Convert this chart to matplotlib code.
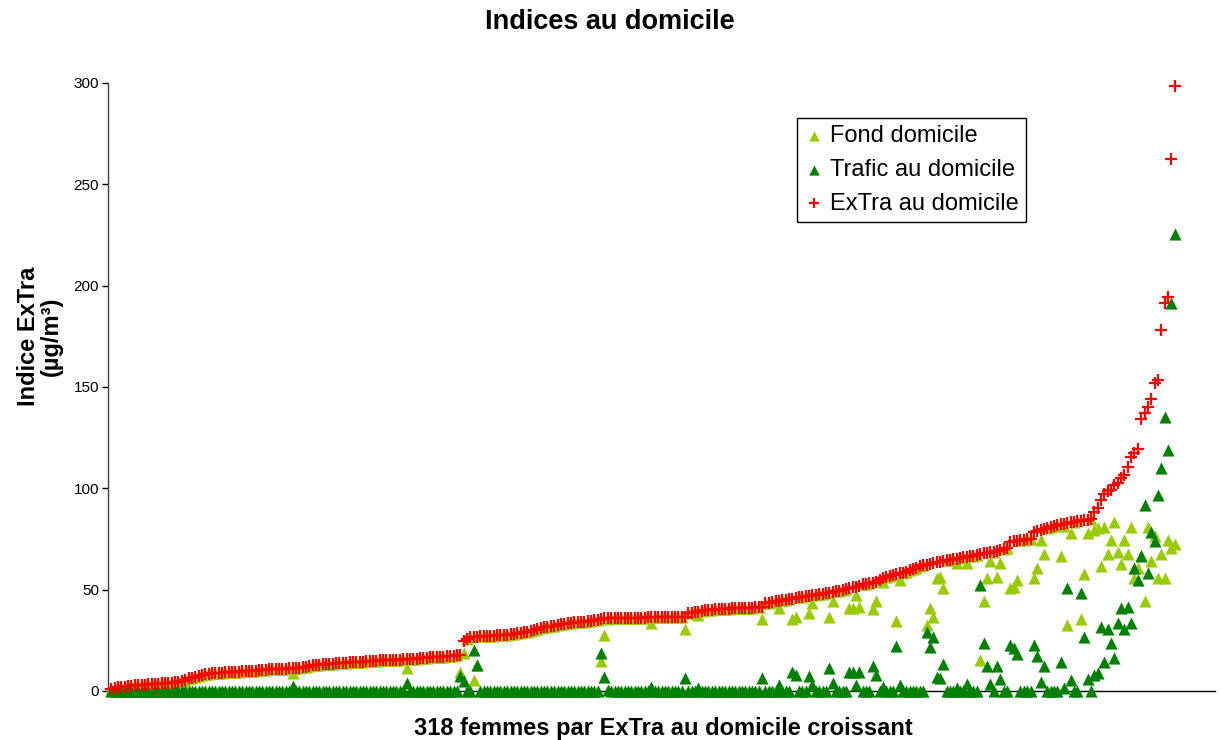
import matplotlib
matplotlib.use("Agg")
import matplotlib.pyplot as plt

plt.rcParams['font.family'] = ['Liberation Sans', 'DejaVu Sans']

title = "Indices au domicile"
xlabel = "318 femmes par ExTra au domicile croissant"
ylabel = "Indice ExTra\n(µg/m³)"
series_names = ["Fond domicile", "Trafic au domicile", "ExTra au domicile"]
yticks = [0, 50, 100, 150, 200, 250, 300]

extra = [
    1.0, 1.5, 1.8, 2.0, 2.2, 2.4, 2.6, 2.8, 3.0, 3.1,
    3.2, 3.3, 3.4, 3.5, 3.6, 3.8, 3.9, 4.0, 4.1, 4.3,
    4.6, 5.0, 5.5, 6.2, 6.6, 7.0, 7.5, 7.9, 8.4, 8.6,
    8.8, 9.0, 9.0, 9.1, 9.2, 9.3, 9.4, 9.5, 9.6, 9.7,
    9.8, 9.9, 10.0, 10.1, 10.2, 10.4, 10.5, 10.7, 10.8, 10.9,
    11.0, 11.0, 11.1, 11.2, 11.3, 11.4, 11.5, 11.7, 12.0, 12.3,
    12.8, 12.9, 13.0, 13.1, 13.2, 13.3, 13.5, 13.6, 13.8, 13.9,
    14.0, 14.1, 14.2, 14.3, 14.4, 14.5, 14.7, 14.8, 15.0, 15.0,
    15.1, 15.1, 15.2, 15.2, 15.3, 15.4, 15.5, 15.6, 15.7, 15.8,
    15.9, 16.0, 16.1, 16.2, 16.4, 16.6, 16.7, 16.8, 16.9, 17.0,
    17.2, 17.4, 17.5, 17.7, 17.9, 24.8, 25.8, 26.5, 26.7, 26.8,
    26.9, 27.0, 27.1, 27.2, 27.3, 27.5, 27.6, 27.7, 27.8, 28.0,
    28.2, 28.4, 28.7, 29.0, 29.3, 29.8, 30.3, 30.8, 31.2, 31.5,
    31.7, 32.0, 32.3, 32.6, 33.0, 33.3, 33.5, 33.7, 33.9, 34.0,
    34.1, 34.2, 34.4, 34.6, 34.9, 35.2, 35.5, 35.8, 35.8, 35.9,
    35.9, 36.0, 36.0, 36.0, 36.1, 36.1, 36.1, 36.2, 36.2, 36.2,
    36.3, 36.3, 36.3, 36.4, 36.4, 36.4, 36.5, 36.5, 36.6, 36.6,
    36.7, 36.7, 38.3, 38.6, 38.9, 39.2, 39.5, 39.8, 40.0, 40.2,
    40.3, 40.4, 40.5, 40.6, 40.7, 40.8, 40.9, 41.0, 41.0, 41.1,
    41.1, 41.2, 41.3, 41.4, 41.5, 43.3, 43.6, 43.9, 44.2, 44.5,
    44.7, 44.9, 45.2, 45.5, 45.8, 46.2, 46.5, 46.8, 47.1, 47.4,
    47.6, 47.8, 48.0, 48.2, 48.5, 48.8, 49.1, 49.5, 49.9, 50.3,
    50.7, 51.1, 51.5, 52.0, 52.6, 53.0, 53.3, 53.5, 54.0, 55.0,
    56.0, 56.4, 56.8, 57.2, 57.6, 58.0, 58.4, 58.8, 59.5, 60.2,
    60.9, 61.5, 62.0, 62.4, 62.8, 63.2, 63.5, 63.8, 64.1, 64.4,
    64.7, 65.0, 65.3, 65.6, 65.9, 66.2, 66.5, 66.8, 67.1, 67.6,
    68.0, 68.2, 68.4, 68.7, 69.0, 69.5, 70.0, 70.8, 73.5, 73.8,
    74.0, 74.3, 74.5, 74.8, 75.0, 78.6, 78.8, 79.2, 80.0, 80.5,
    81.0, 81.5, 82.0, 82.3, 82.6, 83.0, 83.4, 83.6, 83.8, 84.0,
    84.2, 84.5, 85.0, 88.5, 90.4, 94.2, 97.2, 98.8, 99.2, 101.6,
    102.8, 105.0, 106.6, 110.5, 115.6, 117.6, 119.4, 134.0, 137.0, 140.3,
    144.0, 152.0, 153.4, 178.0, 191.4, 194.2, 262.5, 298.6,
]

fond = [
    1.0, 1.5, 1.8, 2.0, 2.2, 2.4, 2.6, 2.8, 3.0, 3.1,
    3.2, 3.3, 3.4, 3.5, 3.6, 3.8, 3.9, 4.0, 4.1, 4.3,
    4.6, 5.0, 5.5, 6.2, 6.6, 7.0, 7.5, 7.9, 8.4, 8.6,
    8.8, 9.0, 9.0, 9.1, 9.2, 9.3, 9.4, 9.5, 9.6, 9.7,
    9.8, 9.9, 10.0, 10.1, 10.2, 10.4, 10.5, 10.7, 10.8, 10.9,
    11.0, 11.0, 11.1, 11.2, 8.8, 11.4, 11.5, 11.7, 12.0, 12.3,
    12.8, 12.9, 13.0, 13.1, 13.2, 13.3, 13.5, 13.6, 13.8, 13.9,
    14.0, 14.1, 14.2, 14.3, 14.4, 14.5, 14.7, 14.8, 15.0, 15.0,
    15.1, 15.1, 15.2, 15.2, 15.3, 15.4, 15.5, 15.6, 11.5, 15.8,
    15.9, 16.0, 16.1, 16.2, 16.4, 16.6, 16.7, 16.8, 16.9, 17.0,
    17.2, 17.4, 17.5, 17.7, 9.5, 18.7, 25.8, 26.5, 5.4, 13.0,
    26.9, 27.0, 27.1, 27.2, 27.3, 27.5, 27.6, 27.7, 27.8, 28.0,
    28.2, 28.4, 28.7, 29.0, 29.3, 29.8, 30.3, 30.8, 31.2, 31.5,
    31.7, 32.0, 32.3, 32.6, 33.0, 33.3, 33.5, 33.7, 33.9, 34.0,
    34.1, 34.2, 34.4, 34.6, 34.9, 35.2, 15.0, 27.6, 35.3, 35.9,
    35.9, 36.0, 36.0, 36.0, 36.1, 36.1, 36.1, 36.2, 36.2, 36.2,
    36.3, 33.7, 36.3, 36.4, 36.4, 36.4, 36.5, 36.5, 36.6, 36.6,
    36.7, 30.4, 38.3, 38.6, 38.9, 37.7, 39.5, 39.8, 40.0, 40.2,
    40.3, 40.4, 40.5, 40.6, 40.7, 40.8, 40.9, 41.0, 41.0, 41.1,
    41.1, 41.2, 41.3, 41.4, 35.4, 43.3, 43.6, 43.9, 44.2, 40.8,
    44.7, 44.9, 45.2, 35.4, 36.4, 46.2, 46.5, 46.8, 38.3, 43.3,
    47.6, 47.8, 48.0, 48.2, 36.4, 44.5, 49.1, 49.5, 49.9, 50.3,
    40.8, 41.2, 47.4, 41.6, 52.6, 53.0, 53.3, 40.3, 44.5, 55.0,
    53.8, 56.4, 56.8, 57.2, 34.7, 54.8, 58.4, 58.8, 59.5, 60.2,
    60.9, 61.5, 62.0, 32.6, 40.8, 36.4, 55.6, 56.4, 50.7, 64.4,
    64.7, 65.0, 63.3, 65.6, 65.9, 63.3, 66.5, 66.8, 67.1, 15.3,
    44.5, 55.6, 64.3, 68.7, 56.4, 63.3, 70.0, 70.8, 50.7, 51.5,
    54.8, 74.3, 74.5, 74.8, 75.0, 55.6, 60.5, 74.5, 67.6, 80.5,
    81.0, 81.5, 82.0, 66.6, 81.2, 32.6, 77.8, 83.6, 83.8, 35.4,
    57.5, 77.8, 85.0, 79.4, 80.5, 61.7, 80.8, 67.6, 74.5, 83.5,
    68.7, 62.7, 74.5, 67.6, 80.8, 55.6, 60.5, 67.0, 44.5, 80.8,
    64.3, 76.5, 55.6, 67.6, 55.6, 74.5, 70.4, 72.5,
]

trafic = [
    0, 0, 0, 0, 0, 0, 0, 0, 0, 0,
    0, 0, 0, 0, 0, 0, 0, 0, 0, 0,
    0, 0, 0, 0, 0, 0, 0, 0, 0, 0,
    0, 0, 0, 0, 0, 0, 0, 0, 0, 0,
    0, 0, 0, 0, 0, 0, 0, 0, 0, 0,
    0, 0, 0, 0, 2.5, 0, 0, 0, 0, 0,
    0, 0, 0, 0, 0, 0, 0, 0, 0, 0,
    0, 0, 0, 0, 0, 0, 0, 0, 0, 0,
    0, 0, 0, 0, 0, 0, 0, 0, 4.0, 0,
    0, 0, 0, 0, 0, 0, 0, 0, 0, 0,
    0, 0, 0, 0, 7.4, 5.0, 0, 0, 20.0, 13.0,
    0, 0, 0, 0, 0, 0, 0, 0, 0, 0,
    0, 0, 0, 0, 0, 0, 0, 0, 0, 0,
    0, 0, 0, 0, 0, 0, 0, 0, 0, 0,
    0, 0, 0, 0, 0, 0, 18.6, 7.0, 0.5, 0,
    0, 0, 0, 0, 0, 0, 0, 0, 0, 0,
    0, 2.0, 0, 0, 0, 0, 0, 0, 0, 0,
    0, 6.2, 0, 0, 0, 1.5, 0, 0, 0, 0,
    0, 0, 0, 0, 0, 0, 0, 0, 0, 0,
    0, 0, 0, 0, 6.2, 0, 0, 0, 0, 3.0,
    0, 0, 0, 9.5, 7.9, 0, 0, 0, 7.4, 3.0,
    0, 0, 0, 0, 11.5, 3.8, 0, 0, 0, 0,
    9.5, 9.5, 3.0, 9.5, 0, 0, 0, 12.5, 8.0, 0,
    2.0, 0, 0, 0, 22.2, 3.0, 0, 0, 0, 0,
    0, 0, 0, 29.3, 21.8, 26.5, 7.0, 6.3, 13.3, 0,
    0, 0, 1.3, 0, 0, 3.3, 0, 0, 0, 52.3,
    23.5, 12.3, 3.5, 0, 12.3, 5.8, 0, 0, 22.7, 21.0,
    18.3, 0, 0, 0, 0, 22.7, 17.3, 4.4, 12.3, 0,
    0, 0, 0, 14.5, 1.3, 50.7, 5.6, 0, 0, 48.5,
    26.5, 6.0, 0, 8.0, 8.7, 31.4, 14.5, 30.4, 23.5, 16.1,
    33.7, 40.8, 30.4, 41.6, 33.7, 60.5, 54.8, 66.6, 91.8, 58.4,
    78.6, 74.1, 96.7, 110.0, 135.0, 119.0, 191.4, 225.5,
]

women = list(range(1, len(extra) + 1))

W, H = 1222, 740
fig = plt.figure(figsize=(W / 100, H / 100), dpi=100)
ax = fig.add_axes([108 / W, 1 - 691 / H, (1215 - 108) / W, (691 - 83) / H])

ax.scatter(women, fond, marker='^', s=76, color='#99CC00', linewidths=0,
           clip_on=False, zorder=3, label=series_names[0])
ax.scatter(women, trafic, marker='^', s=76, color='#008000', linewidths=0,
           clip_on=False, zorder=4, label=series_names[1])
ax.scatter(women, extra, marker='+', s=64, color='#FF0000', linewidths=1.6,
           clip_on=False, zorder=5, label=series_names[2])

ax.set_xlim(0, 330)
ax.set_ylim(0, 300)
ax.set_xticks([])
ax.set_yticks(yticks)
ax.tick_params(axis='y', direction='out', length=4, width=1, labelsize=11, pad=2.5)
for s in ['top', 'right']:
    ax.spines[s].set_visible(False)
ax.spines['left'].set_color('#404040')
ax.spines['bottom'].set_color('black')
ax.spines['left'].set_linewidth(1)
ax.spines['bottom'].set_linewidth(1)

fig.text(610 / W, 1 - 22 / H, title, ha='center', va='center',
         fontsize=19.5, fontweight='bold')

ax.set_xlabel(xlabel, fontsize=17, fontweight='bold', va='center')
ax.xaxis.set_label_coords((663 - 108) / 1107, -37 / 608)
ax.set_ylabel(ylabel, fontsize=17, fontweight='bold', va='center', ha='center',
              linespacing=1.0)
ax.yaxis.set_label_coords((40 - 108) / 1107, (691 - 336) / 608)

leg = ax.legend(loc='upper left', bbox_to_anchor=((797 - 108) / 1107, (691 - 118) / 608),
                fontsize=17, frameon=True, fancybox=False, shadow=False,
                framealpha=1, edgecolor='black', borderpad=0.3, labelspacing=0.5,
                handlelength=0.8, handletextpad=0.3, borderaxespad=0, scatterpoints=1,
                markerscale=0.85)
leg.get_frame().set_linewidth(1)

fig.savefig('out.png', dpi=100)
